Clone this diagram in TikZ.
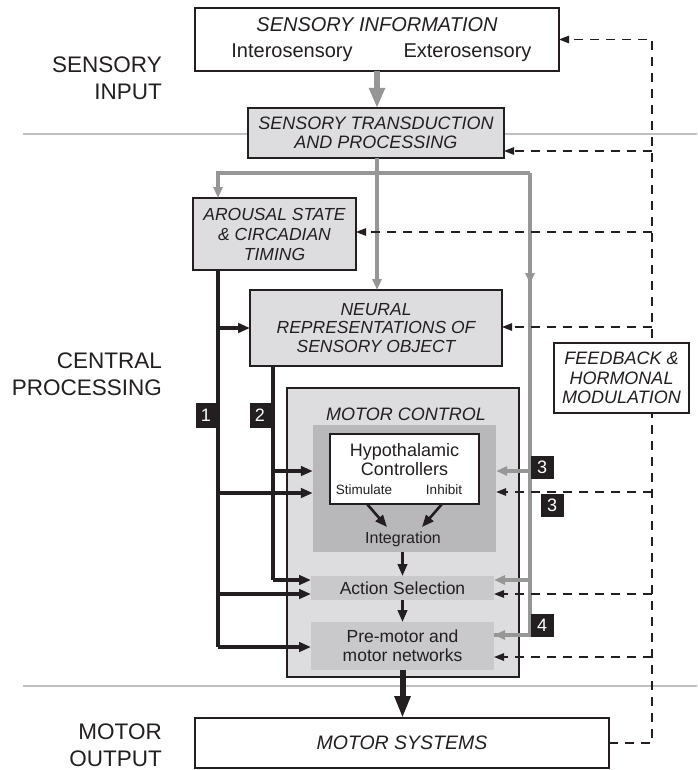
\documentclass[tikz,border=0pt]{standalone}
\usepackage{fontspec}
\setmainfont{Liberation Sans}
\usetikzlibrary{arrows.meta,calc}
\definecolor{ink}{RGB}{35,31,32}
\definecolor{boxfill}{RGB}{221,221,223}
\definecolor{innerfill}{RGB}{184,184,186}
\definecolor{stagefill}{RGB}{201,201,203}
\definecolor{flow}{RGB}{150,150,150}
\definecolor{rulegray}{RGB}{192,192,192}
\begin{document}
\begin{tikzpicture}[x=1pt,y=-1pt, line join=miter,
  box/.style={draw=ink, line width=1.3pt, fill=white, inner sep=0pt, outer sep=0pt},
  shaded/.style={box, fill=boxfill},
  stagebox/.style={fill=stagefill, inner sep=0pt, outer sep=0pt},
  ital/.style={text=ink, align=center, font=\fontsize{17.5}{19.5}\selectfont\itshape},
  plain/.style={text=ink, align=center, font=\fontsize{17.5}{19}\selectfont},
  side/.style={text=ink, align=right, anchor=east, inner sep=0pt, font=\fontsize{22.5}{27}\selectfont},
  tag/.style={fill=ink, text=white, inner sep=0pt, minimum width=23pt, minimum height=23pt, font=\fontsize{18}{18}\selectfont},
  bline/.style={draw=ink, line width=3.2pt},
  barrow/.style={bline, -{Triangle[length=12pt,width=9.5pt]}},
  gline/.style={draw=flow, line width=3.2pt},
  garrow/.style={gline, -{Triangle[length=11pt,width=9pt]}},
  dline/.style={draw=ink, line width=1.35pt, dash pattern=on 9pt off 7pt},
  darrow/.style={dline, -{Triangle[length=10pt,width=7.5pt]}},
  seprule/.style={draw=rulegray, line width=1.8pt}
]
\useasboundingbox (0,0) rectangle (697,770);

% stage rules
\draw[seprule] (23,134) -- (697,134);
\draw[seprule] (23,686) -- (697,686);

% stage labels
\node[side] (lblin) at (162,78) {SENSORY\\INPUT};
\node[side] (lblcp) at (162,374.5) {CENTRAL\\PROCESSING};
\node[side] (lblmo) at (162,745) {MOTOR\\OUTPUT};

% sensory information
\node[box, minimum width=364pt, minimum height=63pt] (sens) at (377,39.5) {};
\node[text=ink, anchor=base, font=\fontsize{20}{22}\selectfont\itshape] (sensT) at (377,32) {SENSORY INFORMATION};
\node[text=ink, anchor=base, font=\fontsize{20}{22}\selectfont] (intero) at (292,58) {Interosensory};
\node[text=ink, anchor=base, font=\fontsize{20}{22}\selectfont] (extero) at (467.5,58) {Exterosensory};

% central boxes
\node[shaded, ital, minimum width=256pt, minimum height=50pt, font=\fontsize{18}{19}\selectfont\itshape] (trans) at (376,133) {SENSORY TRANSDUCTION\\AND PROCESSING};
\node[shaded, ital, minimum width=163pt, minimum height=72pt, font=\fontsize{17.5}{20}\selectfont\itshape] (arous) at (274.5,234) {AROUSAL STATE\\\& CIRCADIAN\\TIMING};
\node[shaded, ital, minimum width=252pt, minimum height=76pt, font=\fontsize{17.5}{18.5}\selectfont\itshape] (neural) at (376,328) {NEURAL\\REPRESENTATIONS OF\\SENSORY OBJECT};

% motor control block
\node[shaded, minimum width=232pt, minimum height=289pt] (mc) at (403,532.5) {};
\node[text=ink, anchor=base, font=\fontsize{18}{20}\selectfont\itshape] (mcT) at (406,420) {MOTOR CONTROL};
\node[fill=innerfill, inner sep=0pt, minimum width=183pt, minimum height=127pt] (inner) at (404.5,488.5) {};
\node[box, minimum width=149pt, minimum height=70pt] (hypo) at (404.5,469) {};
\node[plain, font=\fontsize{18}{19}\selectfont] (hypoT) at (404.5,460) {Hypothalamic\\Controllers};
\node[text=ink, anchor=base, font=\fontsize{13.5}{15}\selectfont] (stim) at (364,494) {Stimulate};
\node[text=ink, anchor=base, font=\fontsize{13.5}{15}\selectfont] (inhib) at (444,494) {Inhibit};
\node[text=ink, anchor=base, font=\fontsize{16}{18}\selectfont] (integ) at (403,543) {Integration};
\node[stagebox, plain, minimum width=183pt, minimum height=24pt] (action) at (402.5,588) {Action Selection};
\node[stagebox, plain, minimum width=183pt, minimum height=48pt] (prem) at (402.5,646) {Pre-motor and\\motor networks};

% motor systems
\node[box, ital, minimum width=414pt, minimum height=50pt, font=\fontsize{19.5}{21}\selectfont\itshape] (motsys) at (402,743) {MOTOR SYSTEMS};

% flow inside motor control
\draw[barrow, line width=2.6pt] ($(hypo.south)+(-37.5,0)$) -- ($(hypo.south)+(-17.5,23)$);
\draw[barrow, line width=2.6pt] ($(hypo.south)+(37.5,0)$) -- ($(hypo.south)+(17.5,23)$);
\draw[barrow, line width=2.6pt] (action.north |- inner.south) -- (action.north);
\draw[barrow, line width=2.6pt] (action.south) -- (prem.north);
\draw[draw=ink, line width=6pt, -{Triangle[length=22pt,width=15pt]}] (prem.south) -- (prem.south |- motsys.north);

% sensory flow (gray)
\draw[draw=flow, line width=5.5pt, -{Triangle[length=20pt,width=15pt]}] (sens.south) -- (sens.south |- trans.north);
\coordinate (gl) at (218,173);
\coordinate (gr) at (530,173);
\draw[garrow] (sens.south |- trans.south) -- (sens.south |- neural.north);
\draw[garrow] (gr) -- (gl) -- (gl |- arous.north);
\draw[garrow] (gr) -- (530,284);
\draw[gline] (530,280) -- (530,635) -- (prem.east |- 0,635);
\draw[garrow] (530,635) -- (prem.east |- 0,635);
\draw[garrow] (530,580) -- (action.east |- 0,580);
\draw[garrow] (530,471) -- (inner.east |- 0,471);

% pathway 1 (from arousal state)
\coordinate (p1) at (218,270);
\draw[bline] (p1) -- (218,647);
\draw[barrow] (218,647) -- (prem.west |- 0,647);
\draw[barrow] (p1 |- neural.west) -- (neural.west);
\draw[barrow] (218,493) -- (inner.west |- 0,493);
\draw[barrow] (218,594) -- (action.west |- 0,594);

% pathway 2 (from neural representations)
\coordinate (p2) at (273,366);
\draw[bline] (p2) -- (273,580);
\draw[barrow] (273,580) -- (action.west |- 0,580);
\draw[barrow] (273,471) -- (inner.west |- 0,471);

% feedback and hormonal modulation (dashed)
\coordinate (fb) at (652,0);
\draw[darrow] (motsys.east) -- (fb |- motsys.east) -- (fb |- sens.east) -- (sens.east);
\draw[darrow] (fb |- 0,151) -- (trans.east |- 0,151);
\draw[darrow] (fb |- 0,232) -- (arous.east |- 0,232);
\draw[darrow] (fb |- 0,327) -- (neural.east |- 0,327);
\draw[darrow] (fb |- 0,492) -- (inner.east |- 0,492);
\draw[darrow] (fb |- 0,594) -- (action.east |- 0,594);
\draw[darrow] (fb |- 0,657) -- (prem.east |- 0,657);
\node[box, ital, minimum width=135pt, minimum height=70pt, font=\fontsize{18}{19.5}\selectfont\itshape] (feed) at (621.5,378) {FEEDBACK \&\\HORMONAL\\MODULATION};

% pathway tags
\node[tag, minimum width=21pt, minimum height=25pt] (t1) at (206,415.5) {1};
\node[tag, minimum width=21pt, minimum height=25pt] (t2) at (260,415.5) {2};
\node[tag] (t3a) at (542,467) {3};
\node[tag] (t3b) at (552,505) {3};
\node[tag] (t4) at (542,625.5) {4};
\end{tikzpicture}
\end{document}
